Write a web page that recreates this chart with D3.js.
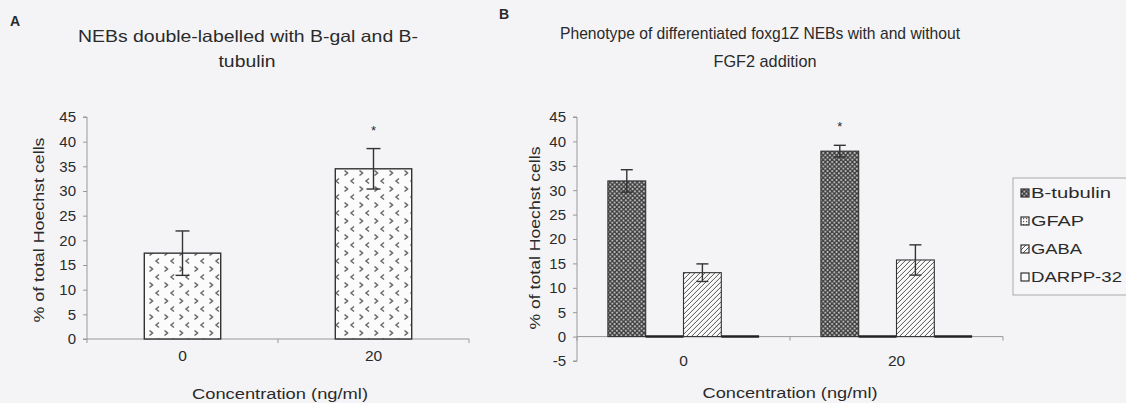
<!DOCTYPE html>
<html>
<head>
<meta charset="utf-8">
<script src="https://cdn.jsdelivr.net/npm/d3@7"></script>
<style>
  body { margin: 0; background: #f4f4f7; }
  text { font-family: "Liberation Sans", Arial, sans-serif; fill: #2a2a2a; }
</style>
</head>
<body>
<script>
var w = 1126
var h = 403

// panel A data
var catsA = ["0", "20"]
var valuesA = [17.4, 34.5]
var errorsA = [4.5, 4.1]
var starsA = ["", "*"]

// panel B data
var catsB = ["0", "20"]
var seriesB = ["B-tubulin", "GFAP", "GABA", "DARPP-32"]
var valuesB = [[31.9, 0, 13.1, 0], [38.0, 0, 15.7, 0]]
var errorsB = [[2.3, 0, 1.8, 0], [1.2, 0, 3.1, 0]]
var starsB = ["", "*"]

var ticksA = [0, 5, 10, 15, 20, 25, 30, 35, 40, 45]
var ticksB = [-5, 0, 5, 10, 15, 20, 25, 30, 35, 40, 45]

var svg = d3.select("body").append("svg")
  .attr("width", w).attr("height", h)

var defs = svg.append("defs")

// chevron pattern for panel A
var pA = defs.append("pattern").attr("id", "chev")
  .attr("patternUnits", "userSpaceOnUse").attr("width", 15).attr("height", 16)
  .attr("x", 2).attr("y", 1)
pA.append("rect").attr("width", 15).attr("height", 16).attr("fill", "#fbfbfb")
pA.append("path")
  .attr("d", "M7,1.5 L4,4 L7,6.5 M12.5,9.5 L15.5,12 L12.5,14.5 M-2.5,9.5 L0.5,12 L-2.5,14.5")
  .attr("fill", "none").attr("stroke", "#6a6a6a").attr("stroke-width", 1.5)

// dark crosshatch for B-tubulin
var pT = defs.append("pattern").attr("id", "tub")
  .attr("patternUnits", "userSpaceOnUse").attr("width", 4.5).attr("height", 4.5)
pT.append("rect").attr("width", 4.5).attr("height", 4.5).attr("fill", "#c8c8c8")
pT.append("path").attr("d", "M0,0 L4.5,4.5 M4.5,0 L0,4.5")
  .attr("stroke", "#363636").attr("stroke-width", 1.3)

// dotted grid for GFAP
var pG = defs.append("pattern").attr("id", "gfap")
  .attr("patternUnits", "userSpaceOnUse").attr("width", 3).attr("height", 3)
pG.append("rect").attr("width", 3).attr("height", 3).attr("fill", "#fafafa")
pG.append("rect").attr("x", 1).attr("y", 1).attr("width", 1.2).attr("height", 1.2).attr("fill", "#555")

// diagonal stripes for GABA
var pS = defs.append("pattern").attr("id", "gaba")
  .attr("patternUnits", "userSpaceOnUse").attr("width", 5).attr("height", 5)
pS.append("rect").attr("width", 5).attr("height", 5).attr("fill", "#fafafa")
pS.append("path").attr("d", "M-1,6 L6,-1 M-1,1 L1,-1 M4,6 L6,4")
  .attr("stroke", "#555").attr("stroke-width", 1)

var fills = ["url(#tub)", "url(#gfap)", "url(#gaba)", "#fafafa"]

function yAxisDraw(g, y, ticks, x0) {
  var ax = g.append("g").attr("transform", "translate(" + x0 + ",0)")
    .call(d3.axisLeft(y).tickValues(ticks).tickSize(4).tickPadding(7)
      .tickFormat(function(d) {return String(d)}))
  ax.selectAll("path, line").attr("stroke", "#999")
  ax.select(".domain").attr("d", "M-4," + y(ticks[0]) + "H0V" + y(ticks[ticks.length - 1]) + "H-4")
  ax.selectAll("text").attr("font-size", "15px").attr("fill", "#2a2a2a")
    .attr("font-family", "Liberation Sans, Arial, sans-serif")
}

function xAxisDraw(g, x, y, labelY) {
  var r = x.range()
  var step = x.step()
  g.append("line").attr("x1", r[0]).attr("x2", r[1])
    .attr("y1", y(0)).attr("y2", y(0)).attr("stroke", "#999")
  var edges = [r[0], r[0] + step, r[1]]
  g.selectAll(".xt").data(edges).enter().append("line")
    .attr("x1", function(d) {return d}).attr("x2", function(d) {return d})
    .attr("y1", y(0)).attr("y2", y(0) + 4).attr("stroke", "#999")
  g.selectAll(".xl").data(x.domain()).enter().append("text")
    .text(function(d) {return d})
    .attr("x", function(d) {return x(d) + x.bandwidth() / 2})
    .attr("y", labelY)
    .attr("text-anchor", "middle").attr("font-size", "15.5px")
}

function errBar(g, cx, y, v, e, cap) {
  if (!e) return
  g.append("line").attr("x1", cx).attr("x2", cx)
    .attr("y1", y(v + e)).attr("y2", y(v - e))
    .attr("stroke", "#333").attr("stroke-width", 1.4)
  ;[v + e, v - e].forEach(function(t) {
    g.append("line").attr("x1", cx - cap).attr("x2", cx + cap)
      .attr("y1", y(t)).attr("y2", y(t))
      .attr("stroke", "#333").attr("stroke-width", 1.4)
  })
}

function label(g, txt, x, y, size, len) {
  return g.append("text").text(txt).attr("x", x).attr("y", y)
    .attr("text-anchor", "middle").attr("font-size", size + "px")
    .attr("textLength", len).attr("lengthAdjust", "spacingAndGlyphs")
}

// ---------- Panel A ----------
var gA = svg.append("g")
var yA = d3.scaleLinear().domain([0, 45]).range([339, 117])
var xA = d3.scaleBand().domain(catsA).range([87, 469]).paddingInner(0.6).paddingOuter(0.3)

gA.append("text").text("A").attr("x", 10).attr("y", 26)
  .attr("font-weight", "bold").attr("font-size", "14px")
label(gA, "NEBs double-labelled with B-gal and B-", 248, 42, 16.5, 340)
label(gA, "tubulin", 247, 67, 16.5, 57)

yAxisDraw(gA, yA, ticksA, 87)
xAxisDraw(gA, xA, yA, 361)

gA.selectAll(".bar").data(valuesA).enter().append("rect")
  .attr("x", function(d, i) {return xA(catsA[i])})
  .attr("y", function(d) {return yA(d)})
  .attr("width", xA.bandwidth())
  .attr("height", function(d) {return yA(0) - yA(d)})
  .attr("fill", "url(#chev)").attr("stroke", "#333").attr("stroke-width", 1.4)

valuesA.forEach(function(v, i) {
  var cx = xA(catsA[i]) + xA.bandwidth() / 2
  errBar(gA, cx, yA, v, errorsA[i], 7)
  if (starsA[i]) gA.append("text").text(starsA[i]).attr("x", cx).attr("y", yA(v + errorsA[i]) - 14)
    .attr("text-anchor", "middle").attr("font-size", "13px")
})

label(gA, "% of total Hoechst cells", 0, 0, 15.5, 185)
  .attr("transform", "translate(44,230) rotate(-90)")
label(gA, "Concentration (ng/ml)", 280, 399, 15.5, 176)

// ---------- Panel B ----------
var gB = svg.append("g")
var yB = d3.scaleLinear().domain([-5, 45]).range([361, 117])
var xB = d3.scaleBand().domain(catsB).range([577, 1003]).paddingInner(0.29).paddingOuter(0.145)
var xS = d3.scaleBand().domain(seriesB).range([0, xB.bandwidth()])

gB.append("text").text("B").attr("x", 499).attr("y", 19)
  .attr("font-weight", "bold").attr("font-size", "14px")
label(gB, "Phenotype of differentiated foxg1Z NEBs with and without", 760, 39, 17, 400)
label(gB, "FGF2 addition", 765, 67, 17, 103)

yAxisDraw(gB, yB, ticksB, 577)
xAxisDraw(gB, xB, yB, 366)

catsB.forEach(function(c, i) {
  var grp = gB.append("g").attr("transform", "translate(" + xB(c) + ",0)")
  valuesB[i].forEach(function(v, j) {
    var x0 = xS(seriesB[j])
    if (v === 0) {
      grp.append("line").attr("x1", x0).attr("x2", x0 + xS.bandwidth())
        .attr("y1", yB(0)).attr("y2", yB(0))
        .attr("stroke", "#222").attr("stroke-width", 2.5)
    } else {
      grp.append("rect").attr("x", x0).attr("y", yB(v))
        .attr("width", xS.bandwidth()).attr("height", yB(0) - yB(v))
        .attr("fill", fills[j]).attr("stroke", "#333").attr("stroke-width", 1.1)
    }
    errBar(grp, x0 + xS.bandwidth() / 2, yB, v, errorsB[i][j], 6)
  })
  if (starsB[i]) {
    var cx0 = xS(seriesB[0]) + xS.bandwidth() / 2
    grp.append("text").text(starsB[i]).attr("x", cx0).attr("y", yB(valuesB[i][0] + errorsB[i][0]) - 14)
      .attr("text-anchor", "middle").attr("font-size", "13px")
  }
})

label(gB, "% of total Hoechst cells", 0, 0, 15.5, 183)
  .attr("transform", "translate(540,238) rotate(-90)")
label(gB, "Concentration (ng/ml)", 790, 398, 15.5, 175)

// legend
var legLens = [80, 53, 51, 91]
var leg = svg.append("g").attr("transform", "translate(1013,178)")
leg.append("rect").attr("width", 130).attr("height", 117)
  .attr("fill", "#f6f6f8").attr("stroke", "#aaa")
seriesB.forEach(function(s, j) {
  var yy = 15 + j * 28
  leg.append("rect").attr("x", 8).attr("y", yy - 4).attr("width", 8).attr("height", 8)
    .attr("fill", fills[j]).attr("stroke", "#333").attr("stroke-width", 1.2)
  leg.append("text").text(s).attr("x", 18).attr("y", yy + 5).attr("font-size", "15px")
    .attr("textLength", legLens[j]).attr("lengthAdjust", "spacingAndGlyphs")
})
</script>
</body>
</html>
